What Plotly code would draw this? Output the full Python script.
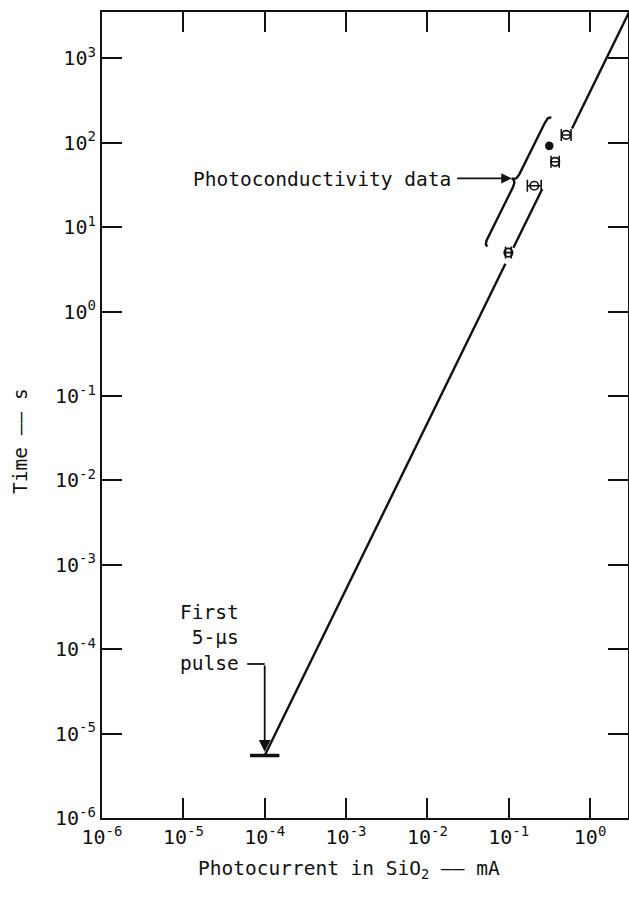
import numpy as np
import plotly.graph_objects as go

# ---------------- data ----------------
# straight-line fit  (drawn in three pieces, with gaps at the data points)
line_current = [1e-4, 0.091, None, 0.114, 0.258, None, 0.60, 3.0]
line_time = [5.5e-6, 3.7, None, 5.7, 28.3, None, 148.0, 3500.0]

# first 5-us pulse
pulse_current = [1e-4]
pulse_time = [5.5e-6]

# photoconductivity data (open symbols) and half-width of bars in decades
open_current = [0.099, 0.206, 0.372, 0.508]
open_time = [5.0, 31.0, 59.6, 124.0]
open_err_dec = [0.035, 0.085, 0.05, 0.06]

# filled symbol
filled_current = [0.315]
filled_time = [92.0]

# brace ends (bottom, top)
brace_current = [0.0547, 0.333]
brace_time = [5.9, 198.0]

# tick labels
x_tickvals = [1e-6, 1e-5, 1e-4, 1e-3, 1e-2, 1e-1, 1e0]
x_ticktext = ["10<sup>-6</sup>", "10<sup>-5</sup>", "10<sup>-4</sup>", "10<sup>-3</sup>",
              "10<sup>-2</sup>", "10<sup>-1</sup>", "10<sup>0</sup>"]
y_tickvals = [1e-6, 1e-5, 1e-4, 1e-3, 1e-2, 1e-1, 1e0, 1e1, 1e2, 1e3]
y_ticktext = ["10<sup>-6</sup>", "10<sup>-5</sup>", "10<sup>-4</sup>", "10<sup>-3</sup>",
              "10<sup>-2</sup>", "10<sup>-1</sup>", "10<sup>0</sup>", "10<sup>1</sup>",
              "10<sup>2</sup>", "10<sup>3</sup>"]

# ---------------- layout geometry ----------------
W, H = 629, 901
ML, MR, MT, MB = 102, 1, 12, 83
x_range = [-6, 0.466]
y_range = [-6, 3.55]
FONT = "DejaVu Sans Mono"
INK = "#111111"
FS = 19.5

plot_w = W - ML - MR
plot_h = H - MT - MB
sx = plot_w / (x_range[1] - x_range[0])   # px per decade
sy = plot_h / (y_range[1] - y_range[0])

# ---------------- brace (built in screen-proportional log space) ----------------
def qbez(p0, c, p1, n=12):
    t = np.linspace(0, 1, n)[:, None]
    return (1 - t) ** 2 * p0 + 2 * (1 - t) * t * c + t ** 2 * p1

B = np.array([np.log10(brace_current[0]) * sx, np.log10(brace_time[0]) * sy])
T = np.array([np.log10(brace_current[1]) * sx, np.log10(brace_time[1]) * sy])
L = np.linalg.norm(T - B)
u = (T - B) / L
nrm = np.array([-u[1], u[0]])
spine, tip, hook = 3.5, 8.6, 7.0

def P(a, b):
    return B + a * u + b * nrm

pts = np.vstack([
    qbez(P(0, 0), P(0, spine), P(hook, spine)),
    qbez(P(L / 2 - hook, spine), P(L / 2, spine), P(L / 2, tip)),
    qbez(P(L / 2, tip), P(L / 2, spine), P(L / 2 + hook, spine)),
    qbez(P(L - hook, spine), P(L, spine), P(L, 0)),
])
brace_x = 10 ** (pts[:, 0] / sx)
brace_y = 10 ** (pts[:, 1] / sy)
tip_pt = P(L / 2, tip)
tip_logx, tip_logy = tip_pt[0] / sx, tip_pt[1] / sy

# ---------------- figure ----------------
fig = go.Figure()

fig.add_trace(go.Scatter(x=line_current, y=line_time, mode="lines",
                         line=dict(color=INK, width=2.4), connectgaps=False,
                         hoverinfo="skip", showlegend=False))

fig.add_trace(go.Scatter(x=brace_x, y=brace_y, mode="lines",
                         line=dict(color=INK, width=2.4), hoverinfo="skip",
                         showlegend=False))

fig.add_trace(go.Scatter(x=pulse_current, y=pulse_time, mode="markers",
                         marker=dict(symbol="line-ew", size=21,
                                     line=dict(color=INK, width=3.5)),
                         showlegend=False))

oc = np.array(open_current)
od = np.array(open_err_dec)
fig.add_trace(go.Scatter(
    x=open_current, y=open_time, mode="markers",
    marker=dict(symbol="circle-open", size=8.5, color=INK, line=dict(color=INK, width=1.7)),
    error_x=dict(type="data", symmetric=False,
                 array=oc * (10 ** od - 1), arrayminus=oc * (1 - 10 ** (-od)),
                 color=INK, thickness=1.6, width=6),
    showlegend=False))

fig.add_trace(go.Scatter(x=filled_current, y=filled_time, mode="markers",
                         marker=dict(symbol="circle", size=8.5, color=INK),
                         showlegend=False))

# L-shaped pointer for the first pulse (horizontal leg)
conn_current = [6.1e-5, 1e-4]
conn_time = [6.68e-5, 6.68e-5]
fig.add_trace(go.Scatter(x=conn_current, y=conn_time, mode="lines",
                         line=dict(color=INK, width=1.8), hoverinfo="skip",
                         showlegend=False))

annotations = [
    # vertical leg with arrowhead
    dict(x=np.log10(pulse_current[0]), y=np.log10(6.1e-6), xref="x", yref="y",
         ax=np.log10(pulse_current[0]), ay=np.log10(conn_time[0]), axref="x", ayref="y",
         showarrow=True, arrowhead=2, arrowsize=1.3, arrowwidth=1.8, arrowcolor=INK,
         text=""),
    dict(x=np.log10(5.13e-5), y=np.log10(1.35e-4), xref="x", yref="y",
         text="First<br>5-µs<br>pulse", showarrow=False, align="right",
         xanchor="right", yanchor="middle",
         font=dict(family=FONT, size=FS, color=INK)),
    dict(x=np.log10(0.0204), y=np.log10(36.5), xref="x", yref="y",
         text="Photoconductivity data", showarrow=False,
         xanchor="right", yanchor="middle",
         font=dict(family=FONT, size=FS, color=INK)),
    dict(x=tip_logx, y=tip_logy, xref="x", yref="y", ax=-56, ay=0,
         showarrow=True, arrowhead=2, arrowsize=1.3, arrowwidth=1.6,
         arrowcolor=INK, text=""),
    # axis titles
    dict(x=(349 - ML) / plot_w, y=-(869 - (H - MB)) / plot_h, xref="paper", yref="paper",
         text="Photocurrent in SiO<sub>2</sub> —— mA", showarrow=False,
         xanchor="center", yanchor="middle",
         font=dict(family=FONT, size=FS, color=INK)),
    dict(x=(20 - ML) / plot_w, y=((H - MB) - 441) / plot_h, xref="paper", yref="paper",
         text="Time —— s", showarrow=False, textangle=-90,
         xanchor="center", yanchor="middle",
         font=dict(family=FONT, size=FS, color=INK)),
]

axis_common = dict(type="log", showgrid=False, zeroline=False,
                   showline=True, linecolor=INK, linewidth=2.2, mirror="ticks",
                   ticks="inside", ticklen=20, tickwidth=1.6, tickcolor=INK,
                   tickfont=dict(family=FONT, size=20, color=INK))

fig.update_xaxes(range=x_range, tickvals=x_tickvals, ticktext=x_ticktext, **axis_common)
fig.update_yaxes(range=y_range, tickvals=y_tickvals, ticktext=y_ticktext, **axis_common)

fig.update_layout(width=W, height=H,
                  margin=dict(l=ML, r=MR, t=MT, b=MB, autoexpand=False),
                  paper_bgcolor="white", plot_bgcolor="white",
                  font=dict(family=FONT, color=INK),
                  showlegend=False, annotations=annotations)

fig.write_html("out.html",
               config={"displayModeBar": False},
               post_script="document.body.style.margin='0px';"
                           "document.body.style.overflow='hidden';")
